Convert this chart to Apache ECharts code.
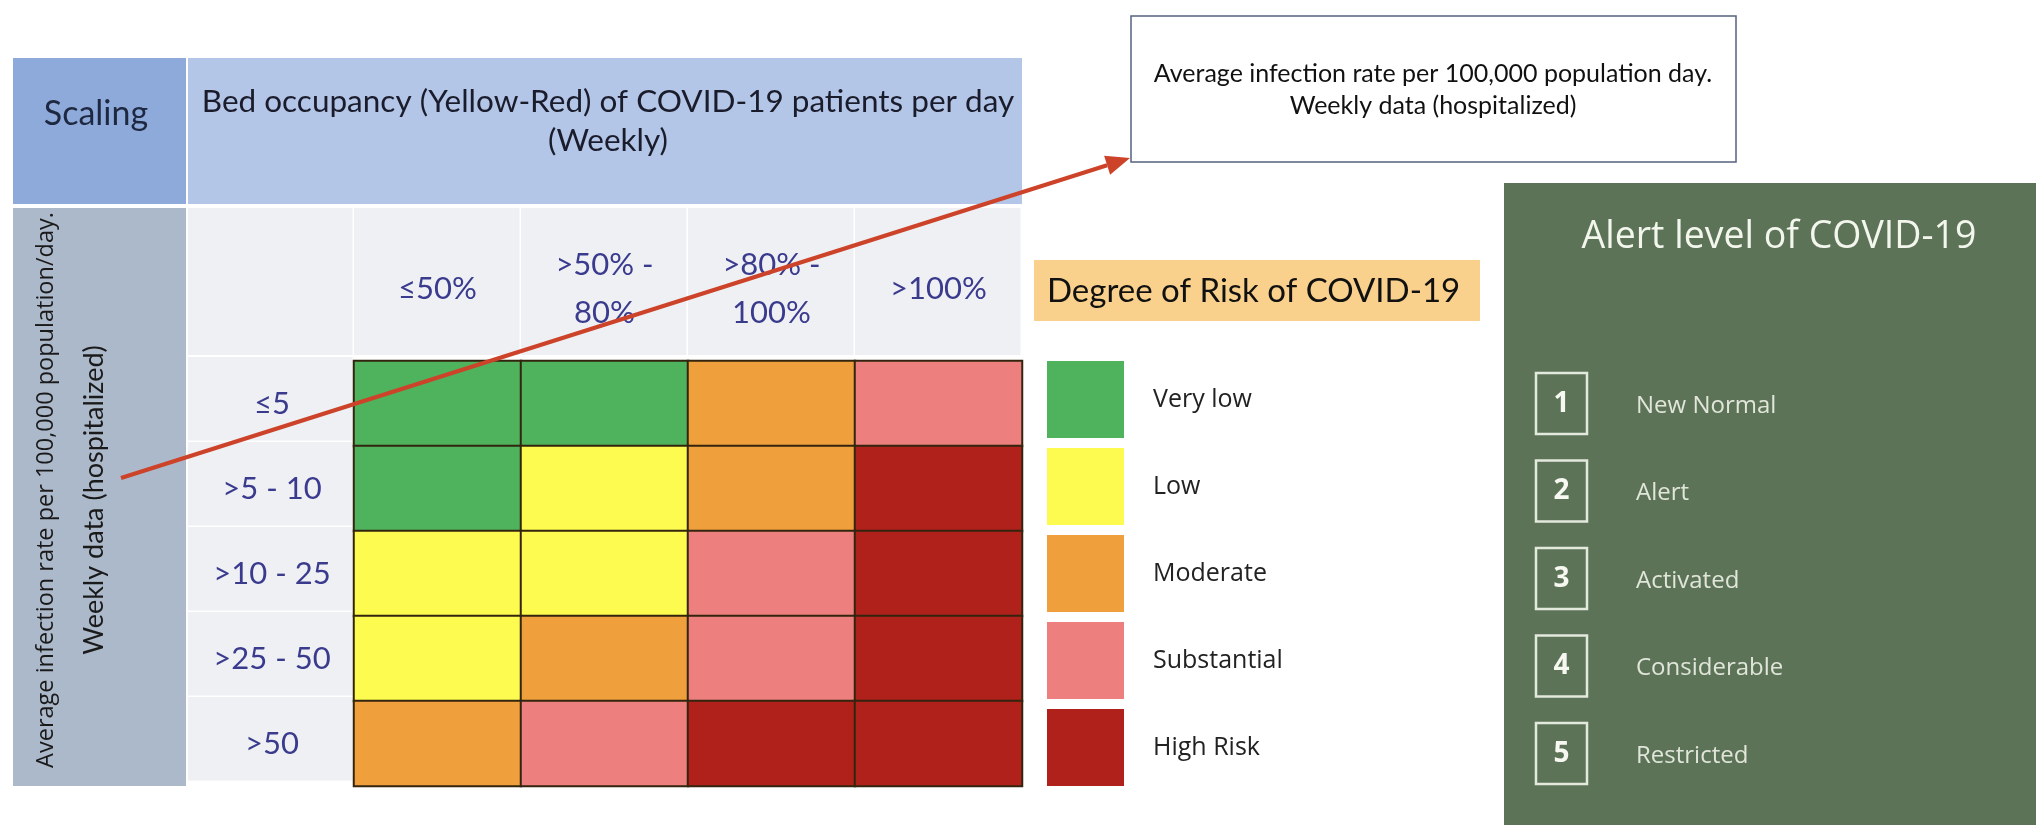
<!DOCTYPE html>
<html>
<head>
<meta charset="utf-8">
<title>COVID-19 risk matrix</title>
<script src="https://cdn.jsdelivr.net/npm/echarts@6/dist/echarts.min.js"></script>
<style>
  html, body { margin: 0; padding: 0; background: #fff; }
  #chart { width: 2036px; height: 825px; }
</style>
</head>
<body>
<div id="chart"></div>
<script>
// columns: bed occupancy, rows: infection rate per 100,000
const bedOccupancy = ['≤50%', '>50% -\n80%', '>80% -\n100%', '>100%'];
const infectionRate = ['≤5', '>5 - 10', '>10 - 25', '>25 - 50', '>50'];
// risk level for each row (top to bottom) and column: 0 = very low ... 4 = high risk
const riskMatrix = [
  [0, 0, 2, 3],
  [0, 1, 2, 4],
  [1, 1, 3, 4],
  [1, 2, 3, 4],
  [2, 3, 4, 4]
];
const riskNames = ['Very low', 'Low', 'Moderate', 'Substantial', 'High Risk'];
const riskColors = ['#4fb35d', '#fdfb4f', '#ef9f3b', '#ed807e', '#b0211b'];
const alertNumbers = ['1', '2', '3', '4', '5'];
const alertNames = ['New Normal', 'Alert', 'Activated', 'Considerable', 'Restricted'];

const chart = echarts.init(document.getElementById('chart'));

// grid box of the matrix
const G = { left: 354, top: 361, width: 668, height: 425 };
const cellW = G.width / bedOccupancy.length;
const cellH = G.height / infectionRate.length;
const LABEL_X = 188; // start of the label column
const HEAD_TOP = 208;

const heatData = [];
riskMatrix.forEach(function (row, r) {
  row.forEach(function (v, c) {
    heatData.push([c, r, v]);
  });
});

// light grey cells behind the axis labels
const labelCells = [];
labelCells.push({
  type: 'rect', z: -10,
  shape: { x: LABEL_X, y: HEAD_TOP, width: G.left - LABEL_X - 1.5, height: G.top - HEAD_TOP - 6 },
  style: { fill: '#eef0f4' }
});
bedOccupancy.forEach(function (_, i) {
  labelCells.push({
    type: 'rect', z: -10,
    shape: { x: G.left + i * cellW, y: HEAD_TOP, width: cellW - 1.5, height: G.top - HEAD_TOP - 6 },
    style: { fill: '#eef0f4' }
  });
});
infectionRate.forEach(function (_, i) {
  labelCells.push({
    type: 'rect', z: -10,
    shape: { x: LABEL_X, y: G.top + i * cellH - 4, width: G.left - LABEL_X - 1.5, height: cellH - 1.5 },
    style: { fill: '#eef0f4' }
  });
});

// alert level panel
const alertItems = [];
alertNumbers.forEach(function (n, i) {
  const cy = 403 + i * 87.5;
  alertItems.push({
    type: 'rect', z: 20,
    shape: { x: 1536, y: cy - 30, width: 51, height: 61 },
    style: { fill: 'none', stroke: '#e4e9dd', lineWidth: 2.5 }
  });
  alertItems.push({
    type: 'text', z: 21, x: 1561.5, y: cy + 1,
    style: {
      text: n, fill: '#f6f8f1', font: 'bold 28px "Open Sans"',
      textAlign: 'center', textVerticalAlign: 'middle'
    }
  });
  alertItems.push({
    type: 'text', z: 21, x: 1636, y: cy + 3,
    style: {
      text: alertNames[i], fill: '#e0e6d9', font: '24px "Open Sans"',
      textAlign: 'left', textVerticalAlign: 'middle'
    }
  });
});

// red arrow from the row-axis title to the note box
const A0 = [121, 478], A1 = [1130, 158];
const ang = Math.atan2(A1[1] - A0[1], A1[0] - A0[0]);
const headLen = 24, headW = 10;
const bx = A1[0] - headLen * Math.cos(ang), by = A1[1] - headLen * Math.sin(ang);
const arrowHead = [
  A1,
  [bx + headW * Math.sin(ang), by - headW * Math.cos(ang)],
  [bx - headW * Math.sin(ang), by + headW * Math.cos(ang)]
];

const option = {
  backgroundColor: '#ffffff',
  animation: false,
  grid: { left: G.left, top: G.top, width: G.width, height: G.height },
  xAxis: {
    type: 'category',
    position: 'top',
    data: bedOccupancy,
    axisLine: { show: false },
    axisTick: { show: false },
    splitLine: { show: false },
    axisLabel: {
      margin: 72,
      verticalAlign: 'middle',
      color: '#3b3b8e',
      fontFamily: 'Lato',
      fontSize: 31,
      lineHeight: 48,
      align: 'center'
    }
  },
  yAxis: {
    type: 'category',
    inverse: true,
    data: infectionRate,
    axisLine: { show: false },
    axisTick: { show: false },
    splitLine: { show: false },
    axisLabel: {
      margin: 82,
      align: 'center',
      color: '#3b3b8e',
      fontFamily: 'Lato',
      fontSize: 31
    }
  },
  visualMap: {
    type: 'piecewise',
    seriesIndex: 0,
    dimension: 2,
    orient: 'vertical',
    inverse: true,
    align: 'left',
    left: 1047,
    top: 361,
    padding: 0,
    itemWidth: 77,
    itemHeight: 77,
    itemGap: 10,
    textGap: 29,
    itemSymbol: 'rect',
    selectedMode: false,
    hoverLink: false,
    pieces: riskNames.map(function (name, i) {
      return { value: i, label: name, color: riskColors[i] };
    }),
    textStyle: { fontFamily: 'Open Sans', fontSize: 25, color: '#222' }
  },
  series: [{
    type: 'heatmap',
    data: heatData,
    silent: true,
    itemStyle: { borderColor: '#33240f', borderWidth: 2 },
    label: { show: false }
  }],
  graphic: [
    // header boxes
    { type: 'rect', z: -10, shape: { x: 13, y: 58, width: 173, height: 146 }, style: { fill: '#8eaadb' } },
    { type: 'rect', z: -10, shape: { x: 188, y: 58, width: 834, height: 146 }, style: { fill: '#b4c6e7' } },
    {
      type: 'text', z: 5, x: 96, y: 114,
      style: { text: 'Scaling', font: '34px Lato', fill: '#1e2840', textAlign: 'center', textVerticalAlign: 'middle' }
    },
    {
      type: 'text', z: 5, x: 608, y: 121,
      style: {
        text: 'Bed occupancy (Yellow-Red) of COVID-19 patients per day\n(Weekly)',
        font: '31.5px Lato', lineHeight: 39, fill: '#1a1c2c', textAlign: 'center', textVerticalAlign: 'middle'
      }
    },
    // row-axis title column
    { type: 'rect', z: -10, shape: { x: 13, y: 208, width: 173, height: 578 }, style: { fill: '#acb9ca' } },
    {
      type: 'text', z: 5, x: 46, y: 490, rotation: Math.PI / 2,
      style: {
        text: 'Average infection rate per 100,000 population/day.',
        font: '23.5px "Open Sans"', fill: '#1a1a1a', textAlign: 'center', textVerticalAlign: 'middle'
      }
    },
    {
      type: 'text', z: 5, x: 94, y: 500, rotation: Math.PI / 2,
      style: {
        text: 'Weekly data (hospitalized)',
        font: '27px Lato', fill: '#1a1a1a', textAlign: 'center', textVerticalAlign: 'middle'
      }
    }
  ].concat(labelCells).concat([
    // note box
    {
      type: 'rect', z: 5, shape: { x: 1131, y: 16, width: 605, height: 146 },
      style: { fill: '#fff', stroke: '#55617d', lineWidth: 1.5 }
    },
    {
      type: 'text', z: 6, x: 1433, y: 90,
      style: {
        text: 'Average infection rate per 100,000 population day.\nWeekly data (hospitalized)',
        font: '25px Lato', lineHeight: 32, fill: '#111', textAlign: 'center', textVerticalAlign: 'middle'
      }
    },
    // legend title
    { type: 'rect', z: 5, shape: { x: 1034, y: 260, width: 446, height: 61 }, style: { fill: '#f9d18d' } },
    {
      type: 'text', z: 6, x: 1047, y: 291,
      style: { text: 'Degree of Risk of COVID-19', font: '33px Lato', fill: '#111', textAlign: 'left', textVerticalAlign: 'middle' }
    },
    // alert panel
    { type: 'rect', z: 10, shape: { x: 1504, y: 183, width: 532, height: 642 }, style: { fill: '#5d7357' } },
    {
      type: 'text', z: 11, x: 1779, y: 237,
      style: { text: 'Alert level of COVID-19', font: '37.5px "Open Sans"', fill: '#f3f6ed', textAlign: 'center', textVerticalAlign: 'middle' }
    }
  ]).concat(alertItems).concat([
    // arrow
    {
      type: 'line', z: 30,
      shape: { x1: A0[0], y1: A0[1], x2: bx, y2: by },
      style: { stroke: '#cc4329', lineWidth: 4 }
    },
    {
      type: 'polygon', z: 30,
      shape: { points: arrowHead },
      style: { fill: '#cc4329' }
    }
  ])
};

chart.setOption(option);
</script>
</body>
</html>
